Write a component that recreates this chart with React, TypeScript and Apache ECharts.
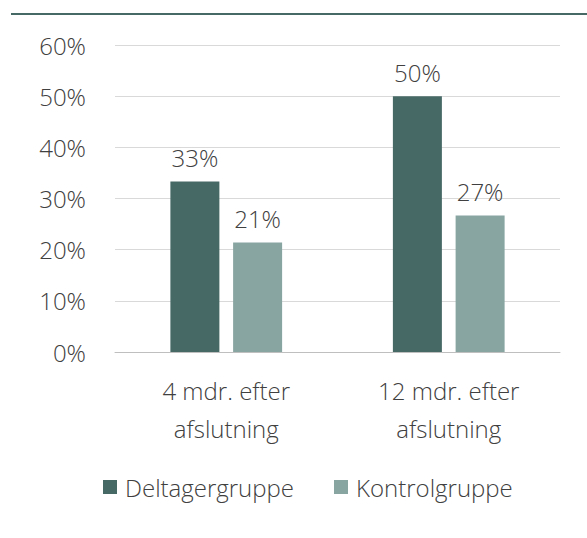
import React, { useEffect, useRef } from "react";
import * as echarts from "echarts";

const categories = ["4 mdr. efter\nafslutning", "12 mdr. efter\nafslutning"];
const seriesNames = ["Deltagergruppe", "Kontrolgruppe"];
const deltager = [33.3, 50.0];
const kontrol = [21.4, 26.7];
const yTicks = [0, 10, 20, 30, 40, 50, 60];

const FONT = "'Open Sans', 'Segoe UI', sans-serif";
const TEXT = "#404040";
const DARK = "#466966";
const LIGHT = "#88a5a2";
const FS = 24;

export default function App() {
  const ref = useRef<HTMLDivElement>(null);
  useEffect(() => {
    document.body.style.margin = "0";
    const chart = echarts.init(ref.current!, null, { renderer: "svg" });
    const label = {
      show: true,
      position: "top",
      distance: 12,
      formatter: (p: any) => Math.round(p.value) + "%",
      fontFamily: FONT,
      fontSize: FS,
      fontWeight: 300,
      color: TEXT,
    };
    chart.setOption({
      animation: false,
      backgroundColor: "#ffffff",
      textStyle: { fontFamily: FONT, color: TEXT },
      graphic: [
        {
          type: "line",
          shape: { x1: 11, y1: 14, x2: 587, y2: 14 },
          style: { stroke: DARK, lineWidth: 2 },
        },
      ],
      grid: { left: 115, right: 27, top: 45, bottom: 186 },
      legend: {
        left: 98,
        top: 470,
        itemWidth: 14,
        itemHeight: 14,
        itemGap: 40,
        icon: "rect",
        textStyle: { fontFamily: FONT, fontSize: FS, fontWeight: 300, color: TEXT, padding: [0, 0, 0, 3] },
        data: seriesNames,
      },
      xAxis: {
        type: "category",
        data: categories,
        axisTick: { show: false },
        axisLine: { lineStyle: { color: "#bfbfbf", width: 1 } },
        axisLabel: {
          fontFamily: FONT,
          fontSize: FS,
          fontWeight: 300,
          color: TEXT,
          lineHeight: 38,
          margin: 19,
        },
      },
      yAxis: {
        type: "value",
        min: yTicks[0],
        max: yTicks[yTicks.length - 1],
        interval: 10,
        axisLabel: {
          formatter: "{value}%",
          fontFamily: FONT,
          fontSize: FS,
          fontWeight: 300,
          color: TEXT,
          margin: 29,
        },
        splitLine: { lineStyle: { color: "#d9d9d9", width: 1 } },
        axisLine: { show: false },
        axisTick: { show: false },
      },
      series: [
        {
          name: seriesNames[0],
          type: "bar",
          data: deltager,
          barWidth: 49,
          barGap: "28%",
          itemStyle: { color: DARK },
          label,
        },
        {
          name: seriesNames[1],
          type: "bar",
          data: kontrol,
          barWidth: 49,
          itemStyle: { color: LIGHT },
          label,
        },
      ],
    });
    return () => chart.dispose();
  }, []);
  return <div ref={ref} style={{ width: 587, height: 538 }} />;
}
